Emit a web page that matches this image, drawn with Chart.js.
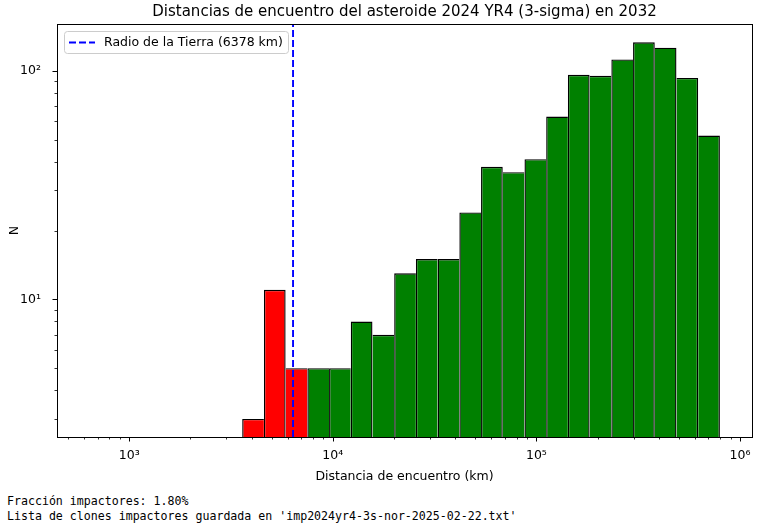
<!DOCTYPE html>
<html>
<head>
<meta charset="utf-8">
<script src="https://cdn.jsdelivr.net/npm/chart.js@4.4.1/dist/chart.umd.min.js"></script>
<style>
body{margin:0;background:#fff;}
#wrap{position:relative;width:771px;height:525px;overflow:hidden;}
#grafico{position:absolute;left:0;top:0;}
#salida{position:absolute;left:7px;top:494px;margin:0;font-family:"DejaVu Sans Mono",monospace;font-size:11.6px;line-height:14.5px;color:#000;white-space:pre;}
</style>
</head>
<body>
<div id="wrap">
<canvas id="grafico" width="771" height="488"></canvas>
<pre id="salida"></pre>
</div>
<script>
// Bordes de los bins (km) y numero de clones en cada uno
var bordes = [3589, 4588, 5866, 7499, 9585, 12254, 15661, 20021, 25594, 32722, 41826, 53456,
              68340, 87365, 111686, 142757, 182474, 233346, 298264, 381300, 487400, 622986, 796500];
var cuentas = [3, 11, 5, 5, 5, 8, 7, 13, 15, 15, 24, 38, 36, 41, 63, 96, 95, 112, 133, 126, 93, 52];
var radioTierra = 6378;
var limX = [442, 1.145e6];
var limY = [2.5, 160];
var fraccion = 1.80;
var archivo = 'imp2024yr4-3s-nor-2025-02-22.txt';

var sup = ['⁰','¹','²','³','⁴','⁵','⁶','⁷','⁸','⁹'];

function esPotencia(v){
    var e = Math.log10(v);
    return Math.abs(e - Math.round(e)) < 1e-6;
}
function etiqueta(v){
    if(esPotencia(v)) return '10' + sup[Math.round(Math.log10(v))];
    return '';
}
// ticks mayores y menores de la escala log
function ticksLog(scale){
    var lista = [];
    var e0 = Math.floor(Math.log10(scale.min));
    var e1 = Math.ceil(Math.log10(scale.max));
    for(var e=e0; e<=e1; e++){
        for(var k=1; k<=9; k++){
            var v = k * Math.pow(10, e);
            if(v >= scale.min && v <= scale.max) lista.push({value: v});
        }
    }
    scale.ticks = lista;
}

var barras = [];
var colores = [];
for(var i=0; i<cuentas.length; i++){
    barras.push({x: Math.sqrt(bordes[i]*bordes[i+1]), y: cuentas[i]});
    colores.push(bordes[i] < radioTierra ? '#ff0000' : '#008000');
}

// borde negro sin duplicar entre barras vecinas
function bordeBarra(ctx){
    var i = ctx.dataIndex;
    var izq = (i == 0 || cuentas[i] >= cuentas[i-1]) ? 1.4 : 0;
    var der = (i == cuentas.length-1 || cuentas[i] > cuentas[i+1]) ? 1.4 : 0;
    return {left: izq, right: der, top: 1.4, bottom: 0};
}

var marco = {
    id: 'marco',
    afterDatasetsDraw: function(chart){
        var c = chart.ctx, a = chart.chartArea;
        var sx = chart.scales.x, sy = chart.scales.y;
        c.save();
        c.strokeStyle = '#000';
        // marcas de los ticks
        sx.ticks.forEach(function(t){
            var p = Math.round(sx.getPixelForValue(t.value)) + 0.5;
            var largo = esPotencia(t.value) ? 4.5 : 2.5;
            c.lineWidth = esPotencia(t.value) ? 1 : 0.8;
            c.beginPath(); c.moveTo(p, a.bottom); c.lineTo(p, a.bottom + largo); c.stroke();
        });
        sy.ticks.forEach(function(t){
            var p = Math.round(sy.getPixelForValue(t.value)) + 0.5;
            var largo = esPotencia(t.value) ? 4.5 : 2.5;
            c.lineWidth = esPotencia(t.value) ? 1 : 0.8;
            c.beginPath(); c.moveTo(a.left, p); c.lineTo(a.left - largo, p); c.stroke();
        });
        // marco de los ejes
        c.lineWidth = 1;
        var l = Math.floor(a.left)+0.5, t = Math.floor(a.top)+0.5;
        var r = Math.floor(a.right)+0.5, b = Math.floor(a.bottom)+0.5;
        c.strokeRect(l, t, r-l, b-t);

        // leyenda
        var ds = chart.data.datasets[0];
        c.font = '12.5px "DejaVu Sans"';
        var texto = ds.label;
        var ancho = c.measureText(texto).width;
        var lx = a.left + 7, ly = a.top + 7, lh = 22;
        var lw = 40 + ancho + 5;
        c.fillStyle = 'rgba(255,255,255,0.8)';
        c.strokeStyle = '#cccccc';
        c.lineWidth = 1;
        c.beginPath();
        c.roundRect(Math.round(lx)+0.5, Math.round(ly)+0.5, Math.round(lw), lh, 3);
        c.fill(); c.stroke();
        var cy = ly + lh/2 + 0.5;
        c.strokeStyle = ds.borderColor;
        c.lineWidth = ds.borderWidth;
        c.setLineDash(ds.borderDash);
        c.beginPath(); c.moveTo(lx + 5, cy); c.lineTo(lx + 31, cy); c.stroke();
        c.setLineDash([]);
        c.fillStyle = '#000';
        c.textBaseline = 'middle';
        c.textAlign = 'left';
        c.fillText(texto, lx + 40, cy);
        c.restore();
    }
};

Chart.defaults.font.family = '"DejaVu Sans", sans-serif';
Chart.defaults.color = '#000';

var ctx = document.getElementById('grafico').getContext('2d');
var grafico = new Chart(ctx, {
    type: 'bar',
    data: {
        datasets: [{
            type: 'line',
            label: 'Radio de la Tierra (' + radioTierra + ' km)',
            data: [{x: radioTierra, y: limY[0]}, {x: radioTierra, y: limY[1]}],
            borderColor: '#0000ff',
            borderWidth: 1.9,
            borderDash: [7, 3],
            pointRadius: 0,
            fill: false,
            order: 0
        }, {
            label: 'N',
            data: barras,
            backgroundColor: colores,
            borderColor: '#000000',
            borderWidth: bordeBarra,
            borderSkipped: false,
            barThickness: 'flex',
            barPercentage: 1,
            categoryPercentage: 1,
            inflateAmount: 0,
            order: 1
        }]
    },
    options: {
        responsive: false,
        animation: false,
        events: [],
        layout: {padding: {left: 0, right: 19, top: 0, bottom: 0}},
        plugins: {
            legend: {display: false},
            tooltip: {enabled: false},
            title: {
                display: true,
                fullSize: false,
                text: 'Distancias de encuentro del asteroide 2024 YR4 (3-sigma) en 2032',
                font: {size: 15, weight: 'normal'},
                color: '#000',
                padding: {top: 3, bottom: 3}
            }
        },
        scales: {
            x: {
                type: 'logarithmic',
                min: limX[0],
                max: limX[1],
                offset: false,
                grid: {display: false},
                border: {display: false},
                ticks: {autoSkip: false, maxRotation: 0, padding: 3, font: {size: 12.5}, callback: etiqueta},
                title: {display: true, text: 'Distancia de encuentro (km)', font: {size: 12.5}, padding: {top: 0, bottom: 4}},
                afterBuildTicks: ticksLog,
                afterFit: function(s){ s.height = 51; }
            },
            y: {
                type: 'logarithmic',
                min: limY[0],
                max: limY[1],
                grid: {display: false},
                border: {display: false},
                ticks: {autoSkip: false, padding: 8, font: {size: 12.5}, callback: etiqueta},
                title: {display: true, text: 'N', font: {size: 12.5}, padding: {top: 7, bottom: 0}},
                afterBuildTicks: ticksLog,
                afterFit: function(s){ s.width = 57; }
            }
        }
    },
    plugins: [marco]
});

document.getElementById('salida').textContent =
    'Fracción impactores: ' + fraccion.toFixed(2) + '%\n' +
    "Lista de clones impactores guardada en '" + archivo + "'";
</script>
</body>
</html>
